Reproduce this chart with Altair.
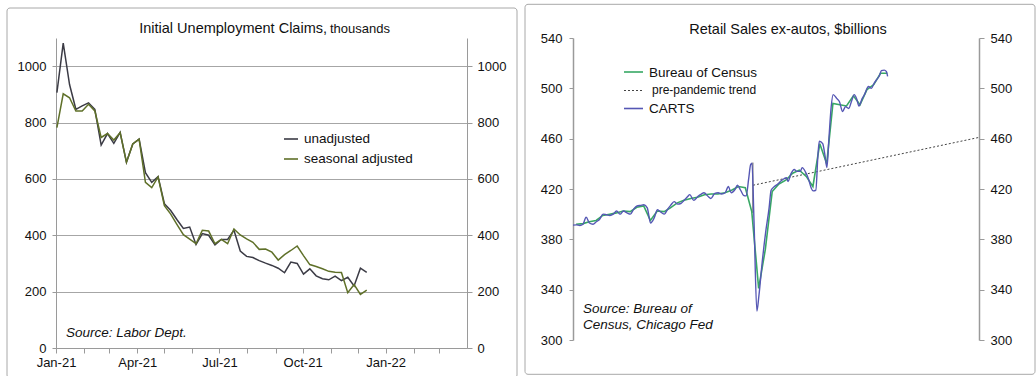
import altair as alt
import pandas as pd

FONT = "Liberation Sans"

# ---------------- Left panel: Initial Unemployment Claims ----------------
claims_weeks = [d.strftime("%Y-%m-%dT00:00:00") for d in pd.date_range("2021-01-02", periods=50, freq="7D")]
unadjusted = [906, 1082, 935, 847, 859, 870, 847, 720, 761, 726,
              765, 659, 724, 741, 622, 588, 608, 512, 488, 455,
              424, 429, 367, 406, 400, 366, 385, 385, 418, 344,
              325, 321, 310, 301, 293, 283, 267, 305, 300, 262,
              281, 256, 246, 242, 255, 239, 251, 220, 283, 268]
seasonal = [782, 902, 888, 841, 841, 865, 841, 747, 761, 738,
            764, 659, 724, 741, 588, 569, 607, 505, 475, 438,
            402, 386, 370, 418, 415, 370, 385, 370, 422, 401,
            387, 375, 350, 351, 340, 312, 331, 346, 362, 328,
            296, 289, 281, 272, 269, 268, 196, 225, 190, 205]
claims_series = ["unadjusted", "seasonal adjusted"]
claims_colors = ["#3b3b45", "#5f7029"]
claims_ticks = [0, 200, 400, 600, 800, 1000]

# ---------------- Right panel: Retail Sales ex-autos ----------------
census_months = [d.strftime("%Y-%m-15T00:00:00") for d in pd.date_range("2018-01-01", periods=47, freq="MS")]
census = [392, 392.5, 394, 395, 399, 400, 401, 402.5, 402, 405.5, 406.5, 395,
          402.5, 402, 405, 409, 411, 412.5, 413.5, 415.5, 416, 416, 417, 419,
          422, 421, 402, 341, 372, 418, 424, 427, 432.5, 435, 430, 422,
          456, 440, 488, 487, 486, 494, 487, 499, 503, 512, 512]
carts_dates = ["2018-01-01", "2018-01-16", "2018-02-01", "2018-02-15", "2018-03-01", "2018-03-16",
               "2018-04-01", "2018-04-16", "2018-05-01", "2018-05-16", "2018-06-01", "2018-06-16",
               "2018-07-01", "2018-07-16", "2018-08-01", "2018-08-16", "2018-09-01", "2018-09-16",
               "2018-10-01", "2018-10-16", "2018-11-01", "2018-11-16", "2018-12-01", "2018-12-16",
               "2019-01-01", "2019-01-16", "2019-02-01", "2019-02-16", "2019-03-01", "2019-03-16",
               "2019-04-01", "2019-04-16", "2019-05-01", "2019-05-16", "2019-06-01", "2019-06-10",
               "2019-06-28", "2019-07-16", "2019-08-01", "2019-08-13", "2019-09-01", "2019-09-13",
               "2019-10-01", "2019-10-16", "2019-11-01", "2019-11-16", "2019-12-01", "2019-12-13",
               "2020-01-01", "2020-01-10", "2020-01-25", "2020-02-07", "2020-02-19", "2020-03-01",
               "2020-03-10", "2020-03-16", "2020-03-25", "2020-04-07", "2020-04-16", "2020-05-01",
               "2020-05-16", "2020-06-01", "2020-06-10", "2020-06-25", "2020-07-10", "2020-07-25",
               "2020-08-10", "2020-08-19", "2020-08-25", "2020-09-07", "2020-09-22", "2020-10-04",
               "2020-10-19", "2020-10-28", "2020-11-13", "2020-11-25", "2020-12-07", "2020-12-16",
               "2020-12-28", "2021-01-07", "2021-01-13", "2021-01-28", "2021-02-07", "2021-02-16",
               "2021-02-25", "2021-03-07", "2021-03-16", "2021-04-01", "2021-04-13", "2021-04-28",
               "2021-05-10", "2021-05-25", "2021-06-07", "2021-06-19", "2021-07-01", "2021-07-10",
               "2021-07-25", "2021-08-04", "2021-08-22", "2021-09-04", "2021-09-16", "2021-09-28",
               "2021-10-10", "2021-10-19", "2021-11-01", "2021-11-10", "2021-11-16"]
carts = [391.3, 391.5, 391, 392, 397.5, 393,
         392, 394, 396, 400, 399.5, 399,
         400, 402.5, 400, 402.5, 401, 400,
         404, 406.5, 407, 407.5, 405, 393,
         397, 403.5, 401.5, 400, 403.5, 407,
         410, 408, 408.5, 411, 414, 415.5,
         411, 414, 416, 417, 414, 412.5,
         416.5, 417, 416, 417, 422, 417,
         420, 423, 419, 415, 414.5, 428,
         439.5, 440.5, 395, 323, 335, 362,
         385, 405, 419, 422, 424, 426.5,
         428.5, 429, 426, 432, 435.5, 434,
         434, 437, 433, 428, 421, 418.5,
         419, 448, 458, 456, 447, 437,
         460, 485, 495, 492, 489.5, 481.5,
         485.5, 484, 490, 495, 491, 486,
         492, 495, 501.5, 500, 504, 507,
         510, 514, 514.5, 513.5, 509.5]
trend_dates = ["2020-03-21", "2023-01-01"]
trend_values = [423, 461]
break_date = ["2020-03-20"]
break_low, break_high = [401], [441]
retail_series = ["Bureau of Census", "pre-pandemic trend", "CARTS"]
retail_colors = ["#38a865", "#444444", "#5557b4"]
retail_ticks = [300, 340, 380, 420, 460, 500, 540]

AXIS_GREY = "#9a9a9a"
LABEL = dict(labelFont=FONT, labelFontSize=13, labelColor="#111111")
one = pd.DataFrame({"k": [0]})


def txt(text, x, y, size=13, align="left", italic=False, baseline="alphabetic"):
    kw = dict(text=text, font=FONT, fontSize=size, align=align, baseline=baseline, color="#111111")
    if italic:
        kw["fontStyle"] = "italic"
    return alt.Chart(one).mark_text(**kw).encode(x=alt.value(x), y=alt.value(y))


def frame(x1, x2, y1, y2):
    return alt.Chart(one).mark_rect(filled=False, stroke="#a8a8a8", strokeWidth=1, cornerRadius=3).encode(
        x=alt.value(x1), x2=alt.value(x2), y=alt.value(y1), y2=alt.value(y2))


def legend_line(x1, x2, y, color, dash=None, width=1.6):
    kw = dict(color=color, strokeWidth=width)
    if dash:
        kw["strokeDash"] = dash
    return alt.Chart(one).mark_rule(**kw).encode(x=alt.value(x1), x2=alt.value(x2), y=alt.value(y))


# ---------- Left chart ----------
LW, LH = 411, 310
unadj_df = pd.DataFrame({"date": claims_weeks, "value": unadjusted})
sa_df = pd.DataFrame({"date": claims_weeks, "value": seasonal})

l_dom = [alt.DateTime(year=2021, month=1, date=1), alt.DateTime(year=2022, month=4, date=1)]
month_ticks = [alt.DateTime(year=2021 + (m // 12), month=(m % 12) + 1, date=1) for m in range(15)]
quarter_ticks = [alt.DateTime(year=2021 + (m // 12), month=(m % 12) + 1, date=1) for m in range(0, 15, 3)]
ly_scale = alt.Scale(domain=[0, 1100], nice=False, zero=True)

lx_labels = alt.X("date:T", title=None, scale=alt.Scale(domain=l_dom),
                  axis=alt.Axis(orient="bottom", values=quarter_ticks, format="%b-%y", grid=False, domain=False,
                                ticks=False, labelPadding=8, labelOverlap=False, labelFlush=False, **LABEL))
lx_ticks = alt.X("date:T", title=None, scale=alt.Scale(domain=l_dom),
                 axis=alt.Axis(orient="bottom", values=month_ticks, labels=False, grid=False,
                               domainColor=AXIS_GREY, tickColor=AXIS_GREY, tickSize=5))
ly_left = alt.Y("value:Q", title=None, scale=ly_scale,
                axis=alt.Axis(orient="left", values=claims_ticks, format="d", grid=True, gridColor="#a6a6a6",
                              gridWidth=1, domainColor=AXIS_GREY, tickColor=AXIS_GREY, tickSize=4, labelPadding=6,
                              **LABEL))
ly_right = alt.Y("value:Q", title=None, scale=ly_scale,
                 axis=alt.Axis(orient="right", values=claims_ticks, format="d", grid=False,
                               domainColor=AXIS_GREY, tickColor=AXIS_GREY, tickSize=5, labelPadding=5, **LABEL))

unadj_line = alt.Chart(unadj_df).mark_line(strokeWidth=1.5, color=claims_colors[0]).encode(x=lx_labels, y=ly_left)
sa_line = alt.Chart(sa_df).mark_line(strokeWidth=1.5, color=claims_colors[1]).encode(x=lx_ticks, y=ly_right)

left = alt.layer(
    frame(-49, 461, -30, 340),
    unadj_line,
    sa_line,
    txt("Initial Unemployment Claims,", 271, -5, size=14.5, align="right"),
    txt("thousands", 274, -5, size=13),
    legend_line(228, 242, 101, claims_colors[0]),
    legend_line(228, 242, 121, claims_colors[1]),
    txt("unadjusted", 248, 105, size=13.5),
    txt("seasonal adjusted", 248, 124.5, size=13.5),
    txt("Source: Labor Dept.", 10, 299, size=13.5, italic=True),
).resolve_axis(x="independent", y="independent").properties(width=LW, height=LH)

# ---------- Right chart ----------
RW, RH = 406, 302
census_df = pd.DataFrame({"date": census_months, "value": census})
carts_df = pd.DataFrame({"date": [d + "T00:00:00" for d in carts_dates], "value": carts})
trend_df = pd.DataFrame({"date": [d + "T00:00:00" for d in trend_dates], "value": trend_values})
break_df = pd.DataFrame({"date": [d + "T00:00:00" for d in break_date], "low": break_low, "high": break_high})

r_dom = [alt.DateTime(year=2018, month=1, date=1), alt.DateTime(year=2023, month=1, date=1)]
year_ticks = [alt.DateTime(year=y, month=1, date=1) for y in range(2018, 2023)]
rx = alt.X("date:T", title=None, scale=alt.Scale(domain=r_dom),
           axis=alt.Axis(values=year_ticks, format="%b-%y", grid=False, domainColor=AXIS_GREY, tickColor=AXIS_GREY,
                         tickSize=5, labelPadding=3, labelOverlap=False, labelFlush=False, **LABEL))
rx_none = alt.X("date:T", title=None, scale=alt.Scale(domain=r_dom), axis=None)
ry_scale = alt.Scale(domain=[300, 540], nice=False, zero=False)

ry_left = alt.Y("value:Q", title=None, scale=ry_scale,
                axis=alt.Axis(orient="left", values=retail_ticks, grid=False, domainColor=AXIS_GREY, domainWidth=1.5,
                              tickColor=AXIS_GREY, tickSize=4, labelPadding=7, **LABEL))
ry_right = alt.Y("value:Q", title=None, scale=ry_scale,
                 axis=alt.Axis(orient="right", values=retail_ticks, grid=False, domainColor=AXIS_GREY,
                               domainWidth=1.5, tickColor=AXIS_GREY, tickSize=5, labelPadding=6, **LABEL))
ry_none = alt.Y("value:Q", title=None, scale=ry_scale, axis=None)

trend_line = alt.Chart(trend_df).mark_line(strokeWidth=1, strokeDash=[2, 2], color=retail_colors[1]).encode(
    x=rx, y=ry_left)
break_rule = alt.Chart(break_df).mark_rule(color="#555555", strokeWidth=1).encode(
    x=rx_none, y=alt.Y("low:Q", scale=ry_scale, axis=None), y2="high:Q")
census_line = alt.Chart(census_df).mark_line(strokeWidth=1.6, color=retail_colors[0]).encode(x=rx_none, y=ry_none)
carts_line = alt.Chart(carts_df).mark_line(strokeWidth=1.4, interpolate="monotone", color=retail_colors[2]).encode(
    x=rx_none, y=ry_right)

right = alt.layer(
    frame(-48, 462, -33.7, 336.3),
    trend_line,
    break_rule,
    census_line,
    carts_line,
    txt("Retail Sales ex-autos, $billions", 215, -4, size=14.5, align="center"),
    legend_line(51, 70, 34, retail_colors[0]),
    legend_line(51, 70, 52.5, retail_colors[1], dash=[2, 2], width=1),
    legend_line(51, 70, 70.5, retail_colors[2]),
    txt("Bureau of Census", 76, 38.5, size=13.5),
    txt("pre-pandemic trend", 79, 55.5, size=12),
    txt("CARTS", 76, 74.5, size=13.5),
    txt("Source: Bureau of", 10, 275, size=13.5, italic=True),
    txt("Census, Chicago Fed", 10, 290.5, size=13.5, italic=True),
).resolve_axis(y="independent").properties(width=RW, height=RH)

chart = alt.hconcat(left, right, spacing=6).properties(
    padding={"left": 6, "top": 3, "right": 0, "bottom": 0},
    background="white",
).configure_view(stroke=None)

chart.save("out.html", embed_options={"renderer": "svg", "actions": False})
